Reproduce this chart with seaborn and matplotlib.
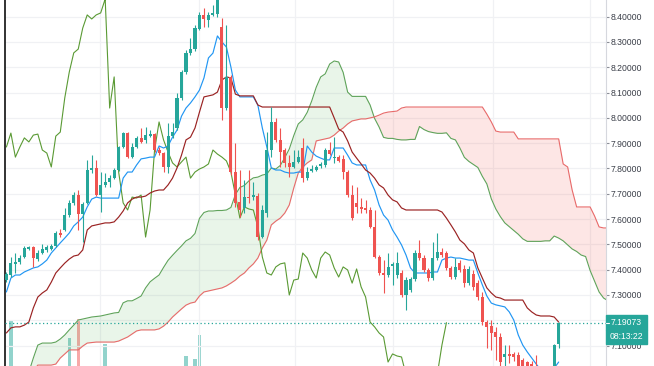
import numpy as np
import pandas as pd
import matplotlib
matplotlib.use("Agg")
import matplotlib.pyplot as plt
from matplotlib.patches import Rectangle
from matplotlib.ticker import FormatStrFormatter
from matplotlib import font_manager
from matplotlib.font_manager import FontProperties
import seaborn as sns

# ---------------- data ----------------
opens = [7.359, 7.379, 7.423, 7.430, 7.450, 7.482, 7.490, 7.442, 7.466, 7.478,
         7.482, 7.494, 7.545, 7.557, 7.616, 7.664, 7.695, 7.620, 7.664, 7.794,
         7.802, 7.695, 7.735, 7.747, 7.762, 7.794, 7.885, 7.940, 7.845, 7.885,
         7.921, 7.913, 7.928, 7.936, 7.873, 7.861, 7.806, 7.928, 7.960, 8.079,
         8.181, 8.257, 8.272, 8.351, 8.407, 8.387, 8.407, 8.411, 8.359, 8.039,
         8.162, 7.786, 7.668, 7.644, 7.687, 7.687, 7.691, 7.529, 7.624, 7.873,
         7.984, 7.913, 7.873, 7.822, 7.806, 7.826, 7.881, 7.762, 7.790, 7.794,
         7.810, 7.814, 7.873, 7.841, 7.845, 7.837, 7.786, 7.695, 7.664, 7.648,
         7.644, 7.636, 7.569, 7.450, 7.387, 7.379, 7.415, 7.379, 7.387, 7.300,
         7.320, 7.363, 7.466, 7.446, 7.399, 7.367, 7.446, 7.470, 7.466, 7.407,
         7.371, 7.427, 7.403, 7.347, 7.383, 7.347, 7.292, 7.193, 7.177, 7.154,
         7.134, 7.055, 7.067, 7.067, 7.063, 7.043, 7.035, 7.027, 7.020, 6.990,
         6.970, 6.970, 6.990, 7.106]
highs = [7.391, 7.450, 7.466, 7.458, 7.494, 7.494, 7.494, 7.478, 7.502, 7.498,
         7.502, 7.553, 7.561, 7.644, 7.676, 7.707, 7.715, 7.668, 7.834, 7.853,
         7.834, 7.786, 7.782, 7.774, 7.802, 7.889, 7.944, 7.944, 7.901, 7.928,
         7.960, 7.964, 7.952, 7.940, 7.885, 7.865, 7.980, 7.980, 8.098, 8.189,
         8.268, 8.316, 8.367, 8.419, 8.434, 8.419, 8.446, 8.580, 8.395, 8.367,
         8.170, 7.901, 7.794, 7.755, 7.794, 7.747, 7.703, 7.656, 7.944, 8.043,
         8.000, 7.960, 7.881, 7.853, 7.873, 7.873, 7.921, 7.806, 7.814, 7.814,
         7.826, 7.881, 7.905, 7.924, 7.853, 7.853, 7.794, 7.735, 7.727, 7.683,
         7.676, 7.648, 7.636, 7.458, 7.438, 7.466, 7.430, 7.470, 7.399, 7.371,
         7.371, 7.478, 7.517, 7.458, 7.407, 7.509, 7.545, 7.486, 7.474, 7.415,
         7.446, 7.438, 7.419, 7.415, 7.399, 7.359, 7.312, 7.201, 7.201, 7.174,
         7.150, 7.102, 7.102, 7.075, 7.075, 7.050, 7.040, 7.040, 7.063, 7.010,
         7.000, 7.005, 7.106, 7.195]
lows = [7.351, 7.371, 7.387, 7.423, 7.446, 7.478, 7.411, 7.434, 7.462, 7.470,
        7.478, 7.490, 7.529, 7.553, 7.608, 7.656, 7.557, 7.509, 7.660, 7.782,
        7.691, 7.628, 7.727, 7.727, 7.758, 7.790, 7.881, 7.841, 7.841, 7.881,
        7.901, 7.901, 7.924, 7.865, 7.853, 7.786, 7.782, 7.921, 7.952, 8.071,
        8.173, 8.249, 8.264, 8.347, 8.359, 8.359, 8.403, 8.400, 7.992, 8.031,
        7.774, 7.648, 7.608, 7.624, 7.664, 7.676, 7.517, 7.525, 7.608, 7.845,
        7.905, 7.806, 7.806, 7.766, 7.802, 7.822, 7.747, 7.755, 7.786, 7.790,
        7.802, 7.806, 7.853, 7.822, 7.826, 7.758, 7.687, 7.596, 7.624, 7.624,
        7.624, 7.565, 7.446, 7.379, 7.308, 7.371, 7.340, 7.367, 7.292, 7.241,
        7.312, 7.355, 7.438, 7.391, 7.355, 7.359, 7.438, 7.450, 7.399, 7.363,
        7.363, 7.391, 7.332, 7.340, 7.320, 7.280, 7.181, 7.091, 7.083, 7.043,
        7.015, 7.015, 7.031, 7.040, 6.970, 6.960, 6.970, 6.960, 6.960, 6.960,
        6.950, 6.950, 6.980, 7.090]
closes = [7.383, 7.427, 7.430, 7.446, 7.486, 7.490, 7.446, 7.466, 7.482, 7.490,
          7.494, 7.545, 7.537, 7.616, 7.664, 7.695, 7.620, 7.660, 7.794, 7.802,
          7.695, 7.735, 7.747, 7.762, 7.794, 7.885, 7.940, 7.845, 7.885, 7.921,
          7.905, 7.932, 7.936, 7.873, 7.861, 7.806, 7.928, 7.944, 8.079, 8.181,
          8.257, 8.272, 8.355, 8.407, 8.391, 8.407, 8.415, 8.470, 8.039, 8.162,
          7.786, 7.664, 7.636, 7.687, 7.683, 7.695, 7.529, 7.636, 7.873, 7.984,
          7.913, 7.865, 7.822, 7.806, 7.826, 7.845, 7.762, 7.786, 7.798, 7.806,
          7.818, 7.873, 7.857, 7.845, 7.830, 7.786, 7.695, 7.604, 7.648, 7.640,
          7.636, 7.569, 7.450, 7.387, 7.379, 7.411, 7.423, 7.427, 7.300, 7.359,
          7.363, 7.466, 7.446, 7.399, 7.367, 7.446, 7.470, 7.458, 7.407, 7.371,
          7.411, 7.399, 7.347, 7.403, 7.332, 7.292, 7.193, 7.174, 7.150, 7.134,
          7.035, 7.067, 7.059, 7.055, 6.985, 6.980, 6.990, 6.985, 6.980, 6.970,
          6.990, 6.990, 7.102, 7.19073]
volumes = [45, 99, 40, 38, 42, 35, 50, 36, 33, 31,
           30, 48, 36, 55, 84, 40, 100, 52, 57, 44,
           46, 42, 79, 35, 38, 52, 45, 47, 34, 33,
           30, 32, 28, 41, 36, 44, 56, 38, 52, 55,
           68.5, 50, 66, 86, 45, 40, 38, 55, 58, 52,
           57, 54, 45, 40, 33, 30, 52, 48, 56, 50,
           42, 38, 36, 32, 30, 28, 45, 33, 30, 27,
           29, 40, 35, 33, 30, 38, 45, 50, 36, 30,
           28, 40, 52, 46, 38, 35, 30, 33, 44, 40,
           36, 48, 40, 38, 35, 45, 38, 30, 36, 34,
           33, 30, 38, 35, 33, 38, 52, 45, 40, 38,
           48, 36, 32, 40, 44, 42, 40, 38, 40, 35,
           33, 40, 52, 48]

conversion_line = [7.312, 7.367, 7.379, 7.379, 7.391, 7.399, 7.407, 7.411, 7.423, 7.438,
                   7.466, 7.486, 7.506, 7.525, 7.545, 7.573, 7.589, 7.608, 7.648, 7.679,
                   7.687, 7.683, 7.683, 7.683, 7.683, 7.683, 7.762, 7.786, 7.786, 7.814,
                   7.838, 7.841, 7.845, 7.845, 7.889, 7.881, 7.889, 7.924, 7.952, 8.007,
                   8.039, 8.059, 8.083, 8.110, 8.158, 8.237, 8.256, 8.324, 8.300, 8.280,
                   8.201, 8.110, 8.083, 8.083, 8.083, 8.083, 8.051, 7.960, 7.885, 7.802,
                   7.794, 7.794, 7.786, 7.782, 7.782, 7.786, 7.786, 7.889, 7.865, 7.849,
                   7.841, 7.834, 7.834, 7.881, 7.881, 7.881, 7.853, 7.822, 7.814, 7.814,
                   7.814, 7.755, 7.715, 7.656, 7.616, 7.596, 7.557, 7.529, 7.498, 7.458,
                   7.407, 7.387, 7.387, 7.387, 7.387, 7.391, 7.391, 7.438, 7.446, 7.450,
                   7.446, 7.446, 7.442, 7.438, 7.438, 7.387, 7.340, 7.296, 7.268, 7.261,
                   7.257, 7.253, 7.233, 7.201, 7.142, 7.102, 7.075, 7.051, 7.027, 7.004,
                   6.996, 6.996, 7.011, 7.035]
base_line = [7.150, 7.170, 7.174, 7.174, 7.181, 7.193, 7.249, 7.292, 7.308, 7.320,
             7.351, 7.387, 7.407, 7.426, 7.442, 7.454, 7.458, 7.478, 7.557, 7.573,
             7.577, 7.581, 7.585, 7.585, 7.589, 7.608, 7.632, 7.664, 7.679, 7.687,
             7.687, 7.691, 7.703, 7.711, 7.715, 7.715, 7.735, 7.762, 7.802, 7.853,
             7.913, 7.924, 7.960, 8.023, 8.083, 8.087, 8.091, 8.102, 8.150, 8.162,
             8.158, 8.094, 8.087, 8.087, 8.087, 8.087, 8.051, 8.043, 8.043, 8.043,
             8.043, 8.043, 8.043, 8.043, 8.043, 8.043, 8.043, 8.043, 8.043, 8.043,
             8.043, 8.043, 8.043, 8.000, 7.956, 7.944, 7.909, 7.865, 7.841, 7.818,
             7.794, 7.782, 7.762, 7.735, 7.723, 7.695, 7.676, 7.668, 7.644, 7.636,
             7.636, 7.636, 7.636, 7.636, 7.636, 7.636, 7.636, 7.628, 7.604, 7.577,
             7.549, 7.517, 7.502, 7.478, 7.466, 7.407, 7.367, 7.328, 7.308, 7.292,
             7.288, 7.280, 7.280, 7.280, 7.280, 7.280, 7.249, 7.233, 7.221, 7.217,
             7.217, 7.217, 7.213, 7.193]
lead_a = [6.970, 6.970, 6.980, 6.980, 6.990, 6.995, 7.051, 7.102, 7.110, 7.110,
          7.110, 7.114, 7.126, 7.142, 7.162, 7.181, 7.201, 7.205, 7.209, 7.213,
          7.215, 7.217, 7.221, 7.225, 7.229, 7.231, 7.269, 7.277, 7.277, 7.286,
          7.296, 7.328, 7.352, 7.366, 7.379, 7.409, 7.437, 7.457, 7.476, 7.494,
          7.514, 7.524, 7.543, 7.603, 7.626, 7.632, 7.632, 7.634, 7.634, 7.636,
          7.646, 7.697, 7.725, 7.733, 7.751, 7.763, 7.766, 7.774, 7.778, 7.802,
          7.798, 7.812, 7.843, 7.877, 7.930, 7.976, 7.992, 8.022, 8.067, 8.121,
          8.162, 8.174, 8.213, 8.225, 8.221, 8.180, 8.102, 8.085, 8.085, 8.085,
          8.085, 8.051, 7.998, 7.964, 7.923, 7.919, 7.919, 7.915, 7.913, 7.913,
          7.915, 7.915, 7.966, 7.954, 7.946, 7.942, 7.939, 7.939, 7.941, 7.919,
          7.913, 7.881, 7.844, 7.828, 7.816, 7.804, 7.769, 7.739, 7.680, 7.640,
          7.610, 7.585, 7.570, 7.555, 7.540, 7.522, 7.512, 7.512, 7.512, 7.512,
          7.514, 7.514, 7.533, 7.525, 7.514, 7.498, 7.482, 7.472, 7.458, 7.452,
          7.397, 7.354, 7.312, 7.288, 7.277]
lead_b = [6.970, 6.970, 6.980, 6.980, 6.990, 6.990, 7.000, 7.023, 7.023, 7.023,
          7.023, 7.027, 7.051, 7.067, 7.083, 7.083, 7.083, 7.098, 7.110, 7.112,
          7.114, 7.114, 7.114, 7.114, 7.114, 7.118, 7.126, 7.134, 7.146, 7.158,
          7.162, 7.162, 7.162, 7.162, 7.166, 7.177, 7.193, 7.213, 7.229, 7.245,
          7.260, 7.268, 7.272, 7.296, 7.312, 7.316, 7.320, 7.324, 7.328, 7.336,
          7.347, 7.359, 7.375, 7.387, 7.407, 7.423, 7.446, 7.486, 7.517, 7.577,
          7.592, 7.604, 7.624, 7.656, 7.723, 7.782, 7.806, 7.822, 7.834, 7.909,
          7.913, 7.917, 7.921, 7.932, 7.948, 7.960, 7.976, 7.988, 7.992, 7.996,
          7.996, 8.000, 8.004, 8.011, 8.019, 8.023, 8.025, 8.027, 8.039, 8.043,
          8.043, 8.043, 8.043, 8.043, 8.043, 8.043, 8.043, 8.043, 8.043, 8.043,
          8.043, 8.043, 8.043, 8.043, 8.043, 8.043, 8.043, 8.015, 7.984, 7.948,
          7.944, 7.944, 7.944, 7.944, 7.917, 7.917, 7.917, 7.917, 7.917, 7.917,
          7.917, 7.917, 7.917, 7.917, 7.818, 7.806, 7.715, 7.648, 7.648, 7.648,
          7.648, 7.612, 7.569, 7.565, 7.565]
lag_shift = 25
price_ticks = [7.1, 7.2, 7.3, 7.4, 7.5, 7.6, 7.7, 7.8, 7.9, 8.0, 8.1, 8.2, 8.3, 8.4]
last_price_label = "7.19073"
countdown_label = "08:13:22"
time_grid = [20.85, 42.9, 64.3, 86.1, 108.4, 130.0]

# ---------------- style ----------------
sns.set_theme(style="white")
names = {f.name for f in font_manager.fontManager.ttflist}
if 'Liberation Sans Narrow' in names:
    FP = FontProperties(family=['Liberation Sans Narrow', 'DejaVu Sans'], size=7.0)
elif 'Liberation Sans' in names:
    FP = FontProperties(family=['Liberation Sans', 'DejaVu Sans'], size=6.2)
else:
    FP = FontProperties(family=['DejaVu Sans'], size=5.6)
plt.rcParams['font.family'] = FP.get_family()

TEAL = '#26a69a'
RED = '#ef5350'

W, H = 654, 366
fig = plt.figure(figsize=(W / 100, H / 100), dpi=100, facecolor='white')
L_PX, R_PX = 5, 606
ax = fig.add_axes([L_PX / W, 0, (R_PX - L_PX) / W, 1])
axv = ax.twinx()
ax.set_zorder(axv.get_zorder() + 1)
ax.patch.set_visible(False)

o = np.array(opens); h = np.array(highs); l = np.array(lows); c = np.array(closes)
n = len(o)
idx = np.arange(n)
up = c >= o
cols = np.where(up, TEAL, RED)

# volume (bottom overlay)
vcols = np.where(up, '#92d3cc', '#f7a9a8')
axv.bar(idx, volumes, width=0.75, color=vcols, linewidth=0)
axv.set_ylim(60, 371.5)
axv.set_axis_off()

# cloud
ia = np.arange(len(lead_a))
A = np.array(lead_a); B = np.array(lead_b)
ax.fill_between(ia, A, B, where=A >= B, interpolate=True, color='#4caf50', alpha=0.12, lw=0, zorder=1)
ax.fill_between(ia, A, B, where=A < B, interpolate=True, color='#f44336', alpha=0.13, lw=0, zorder=1)
sns.lineplot(x=ia, y=A, ax=ax, color='#5fa35a', linewidth=0.8, estimator=None, sort=False, legend=False, zorder=2)
sns.lineplot(x=ia, y=B, ax=ax, color='#e86a6a', linewidth=0.8, estimator=None, sort=False, legend=False, zorder=2)

# lagging span
sns.lineplot(x=idx[lag_shift:] - lag_shift, y=c[lag_shift:], ax=ax, color='#5a9a34',
             linewidth=0.8, estimator=None, sort=False, legend=False, zorder=3)
# conversion / base
sns.lineplot(x=idx, y=np.array(conversion_line), ax=ax, color='#2196f3', linewidth=0.85,
             estimator=None, sort=False, legend=False, zorder=3)
sns.lineplot(x=idx, y=np.array(base_line), ax=ax, color='#9a2222', linewidth=0.85,
             estimator=None, sort=False, legend=False, zorder=3)

# candles
ax.vlines(idx, l, h, colors=cols, linewidth=0.8, zorder=5)
body_lo = np.minimum(o, c)
body_h = np.maximum(np.abs(c - o), 0.004)
ax.bar(idx, body_h, bottom=body_lo, width=0.68, color=cols, linewidth=0, zorder=6)

# last price line
ax.axhline(closes[-1], color=TEAL, lw=0.9, ls=(0, (1, 2)), zorder=4)

# axes
ax.set_xlim(-0.312, 133.54)
ax.set_ylim(8.466 - 366 / 253, 8.466)
axv.set_xlim(-0.312, 133.54)
ax.set_yticks(price_ticks)
ax.yaxis.set_major_formatter(FormatStrFormatter('%.5f'))
ax.yaxis.tick_right()
ax.set_xticks(time_grid)
ax.set_xticklabels([])
ax.tick_params(axis='y', which='both', right=True, length=3 * 0.72, width=0.8, color='#8a8d96',
               pad=1.5, labelcolor='#3a3e48')
for lab in ax.get_yticklabels():
    lab.set_fontproperties(FP)
ax.tick_params(axis='x', length=0)
ax.grid(True, color='#f0f1f4', lw=0.9, zorder=0)
ax.set_axisbelow(True)
for s in ['top', 'bottom']:
    ax.spines[s].set_visible(False)
ax.spines['left'].set_color('#222222')
ax.spines['left'].set_linewidth(1.3)
ax.spines['right'].set_color('#d6d8de')
ax.spines['right'].set_linewidth(0.8)
ax.set_xlabel(''); ax.set_ylabel('')

# price / countdown labels
def fx(px): return px / W
def fy(py): return 1 - py / H
fig.patches.append(Rectangle((fx(606), fy(330)), fx(647) - fx(606), fy(314.5) - fy(330),
                             transform=fig.transFigure, color=TEAL, zorder=5))
fig.patches.append(Rectangle((fx(606), fy(343.5)), fx(647) - fx(606), fy(330) - fy(343.5),
                             transform=fig.transFigure, color=TEAL, zorder=5))
fig.text(fx(611), fy(322.6), last_price_label, color='white', fontproperties=FP,
         va='center', ha='left', zorder=6)
fig.text(fx(626.5), fy(336.8), countdown_label, color='white', fontproperties=FP,
         va='center', ha='center', zorder=6)
fig.lines.append(plt.Line2D([fx(606), fx(609)], [fy(322.6), fy(322.6)], transform=fig.transFigure,
                            color='white', lw=0.8, zorder=6))

fig.savefig('out.png', dpi=100, facecolor='white')
